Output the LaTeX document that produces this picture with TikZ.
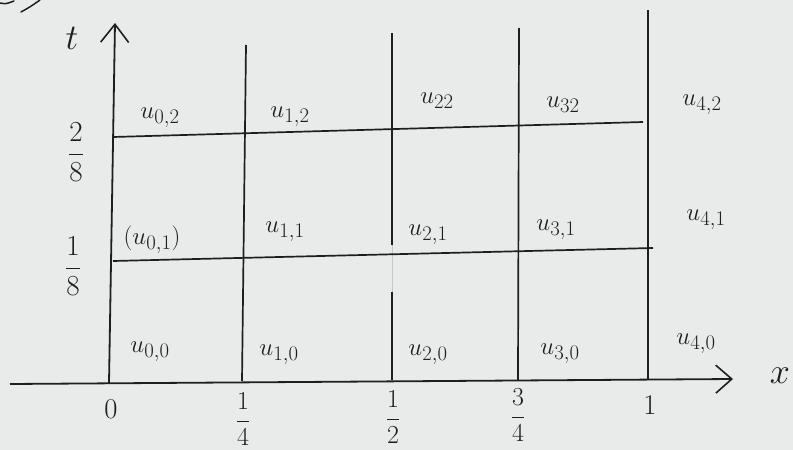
\documentclass[tikz,border=0pt]{standalone}
\usetikzlibrary{arrows.meta}
\definecolor{paper}{RGB}{233,235,234}
\definecolor{ink}{RGB}{30,30,30}
\newcommand{\myfr}[2]{\scalebox{1.4}{$\displaystyle\frac{#1}{#2}$}}
\newcommand{\myfrs}[2]{\scalebox{1.25}{$\displaystyle\frac{#1}{#2}$}}
\begin{document}
\begin{tikzpicture}[x=1pt,y=-1pt,
  gridline/.style={draw=ink,line width=1.7pt},
  axisline/.style={draw=ink,line width=1.8pt},
  lbl/.style={text=ink,font=\fontsize{24.88}{30}\selectfont,inner sep=0pt},
  tick/.style={text=ink,font=\fontsize{20.74}{26}\selectfont,inner sep=0pt},
  bigtick/.style={text=ink,font=\fontsize{24.88}{30}\selectfont,inner sep=0pt},
  axlbl/.style={text=ink,font=\fontsize{24.88}{30}\selectfont,inner sep=0pt}]
\fill[paper] (0,0) rectangle (793,450);
\useasboundingbox (0,0) rectangle (793,450);
% stray stroke
\draw[ink,line width=1.5pt,line cap=round] (0,3) .. controls (6,4) .. (14,1);
\draw[ink,line width=1.5pt,line cap=round] (21,12) .. controls (30,7) .. (40,0);
% axes
\coordinate (xs) at (10,384);
\coordinate (xe) at (733,379);
\coordinate (ys) at (109,383);
\coordinate (ye) at (115,23);
\draw[axisline,-{Straight Barb[length=16pt,width=28pt,line width=1.6pt]}] (xs) -- (xe);
\draw[axisline,-{Straight Barb[length=18pt,width=28pt,line width=1.6pt]}] (ys) -- (ye);
% vertical grid lines
\coordinate (a1) at (242,381); \coordinate (b1) at (246,45);
\coordinate (a2) at (392,380); \coordinate (m2) at (392,292);
\coordinate (n2) at (392,245); \coordinate (b2) at (392,33);
\coordinate (a3) at (518,380); \coordinate (b3) at (519,28);
\coordinate (a4) at (648,379); \coordinate (b4) at (648,10);
\draw[gridline] (a1) -- (b1);
\draw[gridline] (a2) -- (m2);
\draw[draw=ink!25,line width=1pt] (m2) -- (n2);
\draw[gridline] (n2) -- (b2);
\draw[gridline] (a3) -- (b3);
\draw[gridline] (a4) -- (b4);
% horizontal grid lines
\coordinate (h2a) at (113,137); \coordinate (h2b) at (643,122);
\coordinate (h1a) at (113,261); \coordinate (h1b) at (653,248);
\draw[gridline] (h2a) -- (h2b);
\draw[gridline] (h1a) -- (h1b);
% axis labels
\node[axlbl] (t) at (72,38) {\scalebox{1.45}{$t$}};
\node[axlbl] (x) at (780,376) {\scalebox{1.45}{$x$}};
\node[tick] (f28) at (76,152) {\myfr{2}{8}};
\node[tick] (f18) at (73,266) {\myfr{1}{8}};
\node[bigtick] (z0) at (111,409) {\scalebox{1.15}{$0$}};
\node[tick] (q1) at (243,419) {\myfrs{1}{4}};
\node[tick] (q2) at (393,417) {\myfrs{1}{2}};
\node[tick] (q3) at (518,415) {\myfrs{3}{4}};
\node[bigtick] (one) at (650,405) {\scalebox{1.15}{$1$}};
% cell labels, row 2
\node[lbl] (u02) at (160,118) {$u_{0,2}$};
\node[lbl] (u12) at (290,117) {$u_{1,2}$};
\node[lbl] (u22) at (437,101) {$u_{22}$};
\node[lbl] (u32) at (563,105) {$u_{32}$};
\node[lbl] (u42) at (702,105) {$u_{4,2}$};
% row 1
\node[lbl] (u01) at (152,240) {$(u_{0,1})$};
\node[lbl] (u11) at (285,232) {$u_{1,1}$};
\node[lbl] (u21) at (428,235) {$u_{2,1}$};
\node[lbl] (u31) at (556,230) {$u_{3,1}$};
\node[lbl] (u41) at (706,220) {$u_{4,1}$};
% row 0
\node[lbl] (u00) at (150,352) {$u_{0,0}$};
\node[lbl] (u10) at (279,355) {$u_{1,0}$};
\node[lbl] (u20) at (428,355) {$u_{2,0}$};
\node[lbl] (u30) at (560,354) {$u_{3,0}$};
\node[lbl] (u40) at (696,344) {$u_{4,0}$};
\end{tikzpicture}
\end{document}
